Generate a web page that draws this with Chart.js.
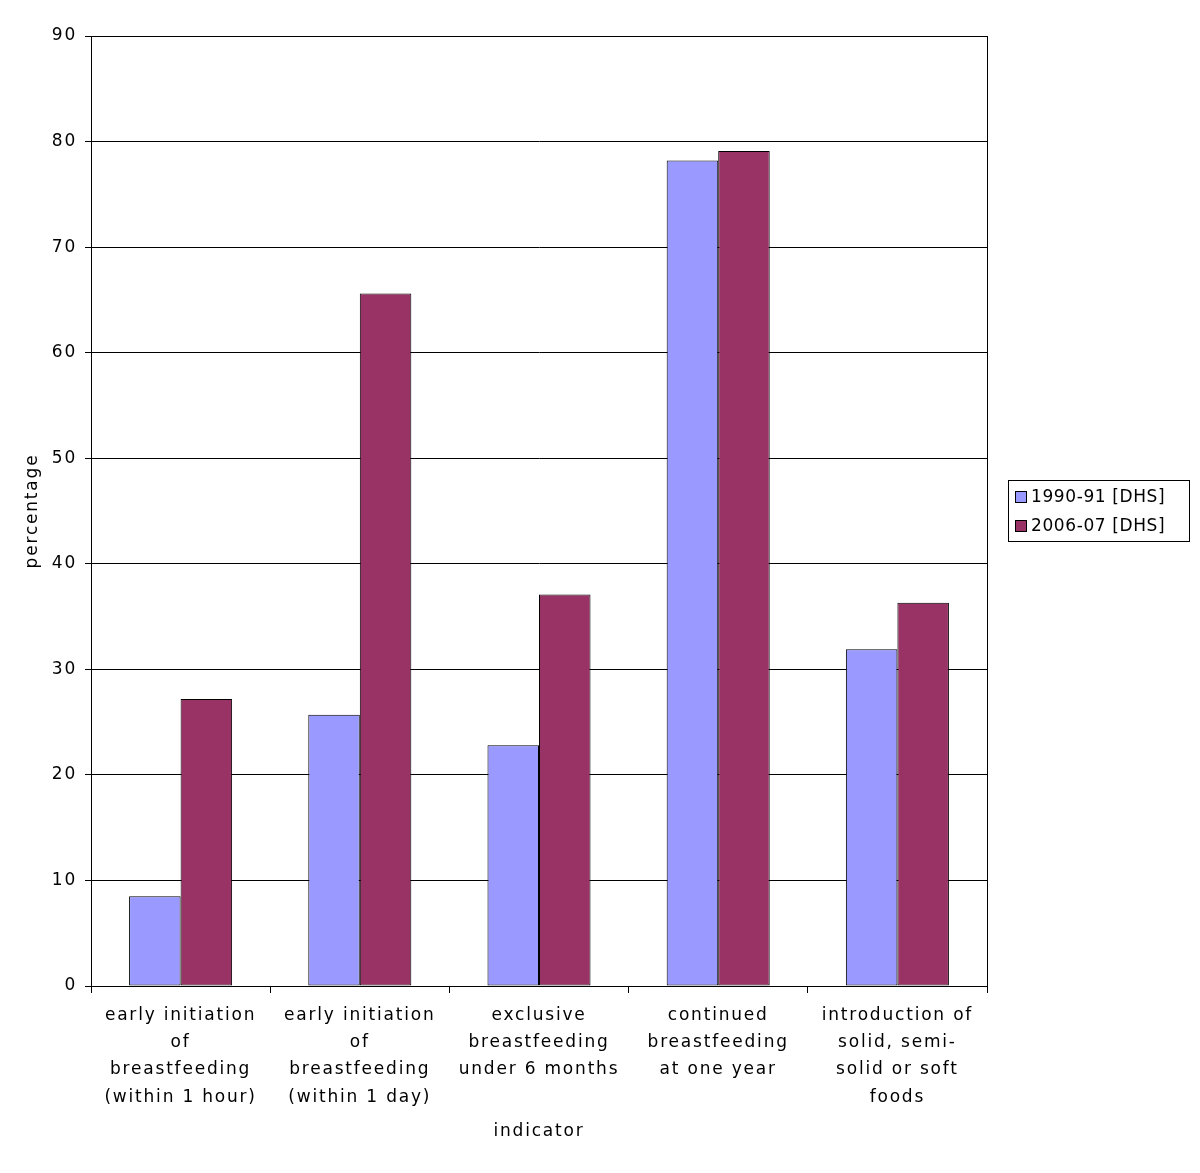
<!DOCTYPE html>
<html>
<head>
<meta charset="utf-8">
<script src="https://cdn.jsdelivr.net/npm/chart.js@4/dist/chart.umd.min.js"></script>
<style>
  body { margin: 0; background: #fff; }
  #wrap { position: relative; width: 1200px; height: 1173px; }
  #legend {
    position: absolute; left: 1008px; top: 480px; width: 182px;
    border: 1px solid #000; padding: 1px 0 1px 6px; box-sizing: border-box;
    font: 17px "DejaVu Sans", sans-serif; color: #000; letter-spacing: 0.6px;
  }
  #legend div { height: 29px; line-height: 29px; white-space: nowrap; }
  #legend span {
    display: inline-block; width: 10px; height: 10px; border: 1px solid #000;
    margin-right: 4px; vertical-align: -1px;
  }
</style>
</head>
<body>
<div id="wrap">
  <canvas id="chart" width="1200" height="1173"></canvas>
  <div id="legend"></div>
</div>
<script>
// Categories (x axis), split into lines as in the original
const categories = [
    ["early initiation", "of", "breastfeeding", "(within 1 hour)"],
    ["early initiation", "of", "breastfeeding", "(within 1 day)"],
    ["exclusive", "breastfeeding", "under 6 months"],
    ["continued", "breastfeeding", "at one year"],
    ["introduction of", "solid, semi-", "solid or soft", "foods"]
];

const seriesNames = ["1990-91 [DHS]", "2006-07 [DHS]"];
const values1990 = [8.5, 25.7, 22.8, 78.2, 31.9];
const values2006 = [27.2, 65.6, 37.1, 79.1, 36.3];
const seriesColors = ["#9999FF", "#993366"];

const yTicks = [0, 10, 20, 30, 40, 50, 60, 70, 80, 90];

const font = { family: "DejaVu Sans", size: 17 };

// Wider letter spacing, like the original bitmap font
const spacingPlugin = {
    id: "spacing",
    beforeDraw(chart) { chart.ctx.letterSpacing = "1.8px"; }
};

// Black frame around the plot area
const framePlugin = {
    id: "frame",
    afterDraw(chart) {
        const { ctx, chartArea: a } = chart;
        ctx.save();
        ctx.strokeStyle = "#000";
        ctx.lineWidth = 1;
        ctx.strokeRect(a.left + 0.5, a.top + 0.5, a.right - a.left, a.bottom - a.top);
        ctx.restore();
    }
};

const ctx = document.getElementById("chart").getContext("2d");
new Chart(ctx, {
    type: "bar",
    data: {
        labels: categories,
        datasets: [values1990, values2006].map((vals, i) => ({
            label: seriesNames[i],
            data: vals,
            backgroundColor: seriesColors[i],
            borderColor: "#000",
            borderWidth: 1,
            borderSkipped: false,
            categoryPercentage: 0.575,
            barPercentage: 1.0
        }))
    },
    options: {
        responsive: false,
        animation: false,
        layout: { padding: { left: 0, right: 213, top: 36, bottom: 31 } },
        plugins: { legend: { display: false }, tooltip: { enabled: false } },
        scales: {
            x: {
                grid: { drawOnChartArea: false, color: "#000", tickLength: 7, offset: true },
                border: { color: "#000" },
                ticks: { color: "#000", font: { ...font, lineHeight: 1.6 }, maxRotation: 0, autoSkip: false, padding: 9 },
                title: { display: true, text: "indicator", color: "#000", font: font, padding: { top: 2, bottom: 0 } },
                afterFit(scale) { scale.height = 156; }
            },
            y: {
                min: 0,
                max: 90,
                afterBuildTicks(scale) { scale.ticks = yTicks.map(v => ({ value: v })); },
                grid: { color: "#000", tickLength: 6 },
                border: { color: "#000" },
                ticks: { color: "#000", font: font, padding: 8 },
                title: { display: true, text: "percentage", color: "#000", font: font, padding: { top: 22, bottom: 0 } },
                afterFit(scale) { scale.width = 91; }
            }
        }
    },
    plugins: [spacingPlugin, framePlugin]
});

// HTML legend built from the series arrays
document.getElementById("legend").innerHTML = seriesNames
    .map((name, i) => `<div><span style="background:${seriesColors[i]}"></span>${name}</div>`)
    .join("");
</script>
</body>
</html>
